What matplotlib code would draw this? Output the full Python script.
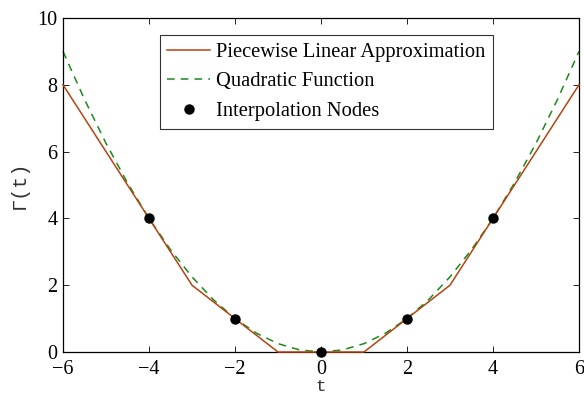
import matplotlib
matplotlib.use("Agg")
import matplotlib.pyplot as plt

# Piecewise linear approximation
pw_t = [-6, -4, -3, -2, -1, 1, 2, 3, 4, 6]
pw_y = [8, 4, 2, 1, 0, 0, 1, 2, 4, 8]

q_t = [-6, -5.5, -5, -4.5, -4, -3.5, -3, -2.5, -2, -1.5, -1, -0.5, 0,
       0.5, 1, 1.5, 2, 2.5, 3, 3.5, 4, 4.5, 5, 5.5, 6]
q_y = [9.0, 7.5625, 6.25, 5.0625, 4.0, 3.0625, 2.25, 1.5625, 1.0, 0.5625, 0.25, 0.0625, 0.0,
       0.0625, 0.25, 0.5625, 1.0, 1.5625, 2.25, 3.0625, 4.0, 5.0625, 6.25, 7.5625, 9.0]

# Interpolation nodes
node_t = [-4, -2, 0, 2, 4]
node_y = [4, 1, 0, 1, 4]

xticks = [-6, -4, -2, 0, 2, 4, 6]
yticks = [0, 2, 4, 6, 8, 10]

plt.rcParams['font.family'] = ['Liberation Serif', 'DejaVu Serif']

fig = plt.figure(figsize=(5.84, 3.94), dpi=100)
ax = fig.add_axes([63/584, 1-352/394, (579-63)/584, (352-18)/394])

ax.plot(pw_t, pw_y, color='#b5430f', lw=1.1, label='Piecewise Linear Approximation', clip_on=False, zorder=3)
ax.plot(q_t, q_y, color='#1a8a1a', lw=1.1, ls=(0, (5, 4)), label='Quadratic Function', clip_on=False, zorder=2)
ax.plot(node_t, node_y, 'o', color='black', ms=6.5, label='Interpolation Nodes', clip_on=False, zorder=4)

ax.set_xlim(-6, 6)
ax.set_ylim(0, 10)
ax.set_xticks(xticks)
ax.set_yticks(yticks)
ax.set_xticklabels([('\u2212' + str(-v)) if v < 0 else str(v) for v in xticks])
ax.tick_params(direction='in', top=True, right=True, labelsize=14.5, length=4, width=0.6)
ax.tick_params(axis='x', pad=6)
ax.tick_params(axis='y', pad=4)
for s in ax.spines.values():
    s.set_linewidth(0.9)

ax.set_xlabel('t', family='Liberation Mono', fontsize=12.5, labelpad=0, color='#333333')
ax.set_ylabel('\u0393(t)', family='Liberation Mono', fontsize=14.5, labelpad=6, color='#333333')

leg = ax.legend(loc='upper center', bbox_to_anchor=(0.51, 0.949), fontsize=14.8, frameon=True,
                fancybox=False, edgecolor='black', handlelength=2.1, handletextpad=0.25,
                borderpad=0.38, labelspacing=0.48, borderaxespad=0)
leg.get_frame().set_linewidth(0.8)

fig.savefig('out.png', dpi=100)
